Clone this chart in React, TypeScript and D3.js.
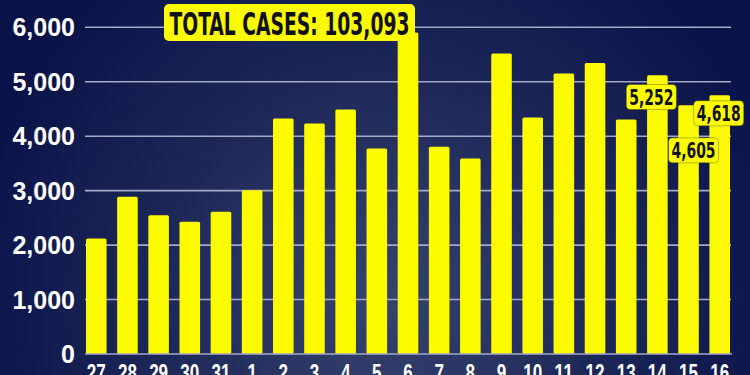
import { useRef, useEffect } from 'react';
import * as d3 from 'd3';

const days = ['27', '28', '29', '30', '31', '1', '2', '3', '4', '5', '6', '7', '8', '9', '10', '11', '12', '13', '14', '15', '16'];
const cases = [2123, 2886, 2550, 2428, 2611, 3009, 4325, 4233, 4490, 3774, 5903, 3804, 3590, 5517, 4343, 5150, 5345, 4306, 5119, 4569, 4752];
const yTicks = [0, 1000, 2000, 3000, 4000, 5000, 6000];
const callouts = [
  { day: '14', text: '5,252', dx: -6, value: 4720 },
  { day: '15', text: '4,605', dx: 5, value: 3740 },
  { day: '16', text: '4,618', dx: -1, value: 4420 },
];
const title = 'TOTAL CASES: 103,093';

const W = 750;
const H = 375;

export default function App() {
  const svgRef = useRef<SVGSVGElement>(null);

  useEffect(() => {
    const svg = d3.select(svgRef.current);
    svg.selectAll('*').remove();

    const defs = svg.append('defs');
    const grad = defs
      .append('radialGradient')
      .attr('id', 'bg')
      .attr('gradientUnits', 'userSpaceOnUse')
      .attr('cx', 380)
      .attr('cy', 300)
      .attr('r', 420);
    grad.append('stop').attr('offset', '0%').attr('stop-color', '#37436e');
    grad.append('stop').attr('offset', '55%').attr('stop-color', '#1c2758');
    grad.append('stop').attr('offset', '100%').attr('stop-color', '#0a1349');

    svg.append('rect').attr('width', W).attr('height', H).attr('fill', 'url(#bg)');

    const x = d3.scaleBand<string>().domain(days).range([86, 730]).paddingInner(0.34).paddingOuter(0);
    const y = d3.scaleLinear().domain([0, 6000]).range([354, 27.3]);

    // gridlines
    svg
      .append('g')
      .selectAll('line')
      .data(yTicks.filter((d) => d > 0))
      .join('line')
      .attr('x1', 85)
      .attr('x2', 731)
      .attr('y1', (d) => y(d))
      .attr('y2', (d) => y(d))
      .attr('stroke', '#a4a9c6')
      .attr('stroke-width', 1.6);

    // y labels
    svg
      .append('g')
      .selectAll('text')
      .data(yTicks)
      .join('text')
      .attr('x', 75)
      .attr('y', (d) => y(d))
      .attr('dy', '0.36em')
      .attr('text-anchor', 'end')
      .attr('fill', '#ffffff')
      .attr('font-family', "'Liberation Sans', sans-serif")
      .attr('font-weight', 700)
      .attr('font-size', 25)
      .text((d) => d3.format(',')(d));

    // bars
    svg
      .append('g')
      .selectAll('rect')
      .data(cases)
      .join('rect')
      .attr('x', (_, i) => x(days[i])!)
      .attr('y', (d) => y(d))
      .attr('width', x.bandwidth())
      .attr('height', (d) => y(0) - y(d))
      .attr('rx', 1.5)
      .attr('fill', '#fdfb00');

    // baseline
    svg
      .append('line')
      .attr('x1', 85)
      .attr('x2', 732)
      .attr('y1', y(0))
      .attr('y2', y(0))
      .attr('stroke', '#a4a9c6')
      .attr('stroke-width', 1.6);

    // x labels, partly below the bottom edge as in the source
    svg
      .append('g')
      .selectAll('text')
      .data(days)
      .join('text')
      .attr('x', (d) => x(d)! + x.bandwidth() / 2)
      .attr('y', 381)
      .attr('text-anchor', 'middle')
      .attr('fill', '#ffffff')
      .attr('font-family', "'Liberation Sans', sans-serif")
      .attr('font-weight', 700)
      .attr('font-size', 23)
      .attr('textLength', (d) => d.length * 9.5)
      .attr('lengthAdjust', 'spacingAndGlyphs')
      .text((d) => d);

    // callout boxes
    const cg = svg.append('g').selectAll('g').data(callouts).join('g');
    cg.append('rect')
      .attr('x', (d) => x(d.day)! + x.bandwidth() / 2 + d.dx - 25)
      .attr('y', (d) => y(d.value) - 12.5)
      .attr('width', 50)
      .attr('height', 25)
      .attr('rx', 4)
      .attr('fill', '#fdfb00')
      .attr('stroke', '#3a3a10')
      .attr('stroke-opacity', 0.35)
      .attr('stroke-width', 1);
    cg.append('text')
      .attr('x', (d) => x(d.day)! + x.bandwidth() / 2 + d.dx)
      .attr('y', (d) => y(d.value))
      .attr('dy', '0.36em')
      .attr('text-anchor', 'middle')
      .attr('fill', '#111111')
      .attr('font-family', "'Liberation Sans Narrow', 'DejaVu Sans Condensed', sans-serif")
      .attr('font-weight', 700)
      .attr('font-size', 21)
      .attr('textLength', 44)
      .attr('lengthAdjust', 'spacingAndGlyphs')
      .text((d) => d.text);

    // title box
    svg
      .append('rect')
      .attr('x', 164)
      .attr('y', 4)
      .attr('width', 251)
      .attr('height', 37)
      .attr('rx', 5)
      .attr('fill', '#fdfb00');
    svg
      .append('text')
      .attr('x', 289.5)
      .attr('y', 23)
      .attr('dy', '0.36em')
      .attr('text-anchor', 'middle')
      .attr('fill', '#111111')
      .attr('font-family', "'Liberation Sans Narrow', 'DejaVu Sans Condensed', sans-serif")
      .attr('font-weight', 700)
      .attr('font-size', 32)
      .attr('textLength', 240)
      .attr('lengthAdjust', 'spacingAndGlyphs')
      .text(title);
  }, []);

  return (
    <svg
      ref={svgRef}
      width={W}
      height={H}
      viewBox={`0 0 ${W} ${H}`}
      style={{ position: 'absolute', left: 0, top: 0, display: 'block' }}
    />
  );
}
